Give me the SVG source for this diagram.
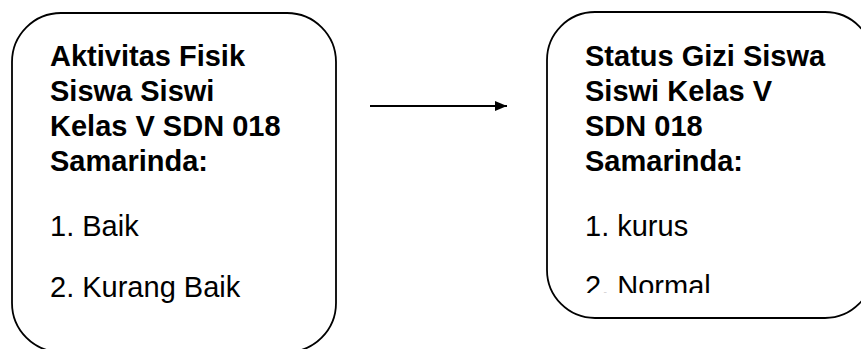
<svg xmlns="http://www.w3.org/2000/svg" width="861" height="349" viewBox="0 0 861 349">
  <style>
    .box { fill: #ffffff; stroke: #000000; stroke-width: 1.8; }
    .t { font-family: "Liberation Sans", Arial, sans-serif; font-size: 29px; fill: #000000; }
    .b { font-weight: bold; }
    .conn { stroke: #000000; stroke-width: 1.8; fill: none; }
  </style>
  <defs>
    <marker id="arrow" markerUnits="userSpaceOnUse" markerWidth="14" markerHeight="12" refX="12" refY="5" orient="auto">
      <path d="M0,0 L12,5 L0,10 Z" fill="#000000"/>
    </marker>
    <clipPath id="clipR">
      <rect x="547" y="12" width="326" height="281"/>
    </clipPath>
  </defs>
  <rect width="861" height="349" fill="#ffffff"/>
  <g id="node-aktivitas">
    <rect class="box" x="12" y="13" width="324" height="339" rx="49" ry="49"/>
    <text class="t b" x="50" y="66">Aktivitas Fisik</text>
    <text class="t b" x="50" y="101">Siswa Siswi</text>
    <text class="t b" x="50" y="136">Kelas V SDN 018</text>
    <text class="t b" x="50" y="171">Samarinda:</text>
    <text class="t" x="50" y="236">1. Baik</text>
    <text class="t" x="50" y="297">2. Kurang Baik</text>
  </g>
  <g id="node-status">
    <rect class="box" x="547" y="12" width="326" height="306" rx="48" ry="48"/>
    <g clip-path="url(#clipR)">
      <text class="t b" x="585" y="66">Status Gizi Siswa</text>
      <text class="t b" x="585" y="101">Siswi Kelas V</text>
      <text class="t b" x="585" y="136">SDN 018</text>
      <text class="t b" x="585" y="171">Samarinda:</text>
      <text class="t" x="585" y="236">1. kurus</text>
      <text class="t" x="585" y="296">2. Normal</text>
    </g>
  </g>
  <g id="connectors">
    <line class="conn" x1="370" y1="106" x2="507" y2="106" marker-end="url(#arrow)"/>
  </g>
</svg>
